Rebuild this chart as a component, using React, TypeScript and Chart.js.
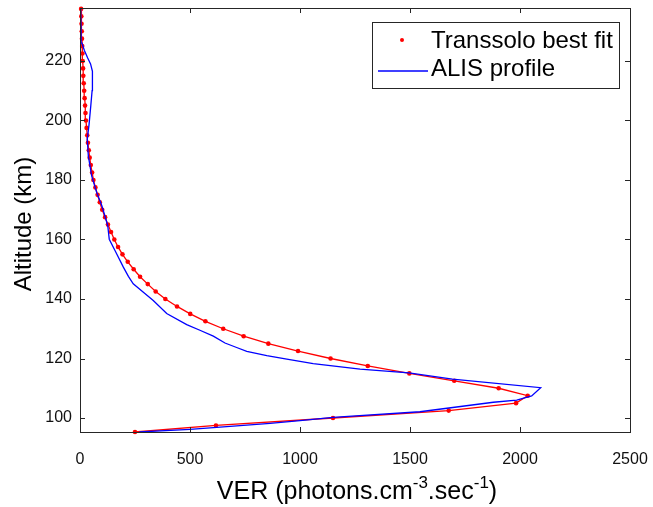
import React, { useEffect, useRef } from "react";
import { Chart, registerables } from "chart.js";

Chart.register(...registerables);

// Transsolo best fit (altitude km, VER)
const redAlt = [95.3, 97.5, 100, 102.5, 105, 107.5, 110, 112.5, 115, 117.5, 120, 122.5, 125, 127.5, 130, 132.5, 135, 137.5, 140, 142.5, 145, 147.5, 150, 152.5, 155, 157.5, 160, 162.5, 165, 167.5, 170, 172.5, 175, 177.5, 180, 182.5, 185, 187.5, 190, 192.5, 195, 197.5, 200, 202.5, 205, 207.5, 210, 212.5, 215, 217.5, 220, 222.5, 225, 227.5, 230, 232.5, 235, 237.5];
const redVer = [250, 618, 1150, 1676, 1982, 2035, 1903, 1701, 1497, 1308, 1139, 991, 856, 744, 651, 570, 501, 441, 388, 344, 308, 273, 244, 217, 193, 173, 156, 141, 127, 114, 101, 90, 80, 70, 61, 55, 49, 44, 40, 36, 33, 30, 27, 25, 23, 21, 19, 17, 15, 14, 12, 11, 10, 9, 8, 7, 6, 5];

// ALIS profile (altitude km, VER)
const blueAlt = [95.3, 96.2, 98.2, 99.1, 100.2, 102.1, 105.3, 106, 107.4, 110.2, 113.1, 115.2, 116.4, 118.3, 119.8, 121, 122.4, 123.7, 125.2, 127.5, 129.5, 131.4, 135.1, 139.5, 142.3, 145.1, 147.6, 150.7, 156.3, 160.1, 164.7, 171.4, 175.8, 181.4, 188, 193.7, 198.5, 204.9, 210, 213.5, 216.5, 219, 221, 223.5, 226, 230, 237.8];
const blueVer = [270, 500, 864, 1000, 1150, 1545, 1879, 1985, 2053, 2094, 1693, 1495, 1273, 1060, 940, 849, 758, 712, 659, 606, 545, 485, 394, 333, 288, 242, 220, 197, 159, 133, 126, 99, 76, 53, 38, 33, 41, 49, 55, 57, 56, 48, 35, 20, 9, 5, 3];

const xTicks = [0, 500, 1000, 1500, 2000, 2500];
const yTicks = [100, 120, 140, 160, 180, 200, 220];
const legendLabels = ["Transsolo best fit", "ALIS profile"];
const xTitleParts = ["VER (photons.cm", "-3", ".sec", "-1", ")"];
const yTitle = "Altitude (km)";

const FONT = '"Liberation Sans", Arial, Helvetica, sans-serif';
const AXIS = "#262626";
const RED = "#ff0000";
const BLUE = "#0000ff";

const framePlugin = {
  id: "matlabFrame",
  afterDraw(chart: any) {
    const { ctx, chartArea } = chart;
    const { left, right, top, bottom } = chartArea;
    const xs = chart.scales.x;
    const ys = chart.scales.y;
    ctx.save();
    // frame
    ctx.strokeStyle = AXIS;
    ctx.lineWidth = 1;
    ctx.strokeRect(left + 0.5, top + 0.5, right - left, bottom - top);
    // inward ticks
    const tl = 5;
    ctx.beginPath();
    xTicks.forEach((v) => {
      const p = Math.round(xs.getPixelForValue(v)) + 0.5;
      ctx.moveTo(p, bottom);
      ctx.lineTo(p, bottom - tl);
      ctx.moveTo(p, top);
      ctx.lineTo(p, top + tl);
    });
    yTicks.forEach((v) => {
      const p = Math.round(ys.getPixelForValue(v)) + 0.5;
      ctx.moveTo(left, p);
      ctx.lineTo(left + tl, p);
      ctx.moveTo(right, p);
      ctx.lineTo(right - tl, p);
    });
    ctx.stroke();

    // legend box
    const bx = right - 257.5;
    const by = top + 14.5;
    const bw = 247;
    const bh = 66;
    ctx.fillStyle = "#ffffff";
    ctx.fillRect(bx, by, bw, bh);
    ctx.strokeStyle = AXIS;
    ctx.lineWidth = 1;
    ctx.strokeRect(bx, by, bw, bh);
    // entry 1: red dot
    ctx.fillStyle = RED;
    ctx.beginPath();
    ctx.arc(bx + 29.5, by + 17.5, 2, 0, Math.PI * 2);
    ctx.fill();
    // entry 2: blue line
    ctx.strokeStyle = BLUE;
    ctx.lineWidth = 1.3;
    ctx.beginPath();
    ctx.moveTo(bx + 5.5, by + 48.5);
    ctx.lineTo(bx + 55.5, by + 48.5);
    ctx.stroke();
    ctx.fillStyle = "#000000";
    ctx.font = `24px ${FONT}`;
    ctx.textAlign = "left";
    ctx.textBaseline = "alphabetic";
    ctx.fillText(legendLabels[0], bx + 58.5, by + 25.5);
    ctx.fillText(legendLabels[1], bx + 58.5, by + 53.5);

    // x title with superscripts
    const mainFont = `25px ${FONT}`;
    const supFont = `17px ${FONT}`;
    const widths = xTitleParts.map((t, i) => {
      ctx.font = i % 2 === 1 ? supFont : mainFont;
      return ctx.measureText(t).width;
    });
    const total = widths.reduce((a, b) => a + b, 0);
    let cx = (left + right) / 2 + 2 - total / 2;
    const base = 499;
    xTitleParts.forEach((t, i) => {
      const sup = i % 2 === 1;
      ctx.font = sup ? supFont : mainFont;
      ctx.fillText(t, cx, sup ? base - 11 : base);
      cx += widths[i];
    });

    // y title
    ctx.save();
    ctx.translate(31, (top + bottom) / 2 + 4);
    ctx.rotate(-Math.PI / 2);
    ctx.font = `24px ${FONT}`;
    ctx.textAlign = "center";
    ctx.fillText(yTitle, 0, 0);
    ctx.restore();

    ctx.restore();
  },
};

export default function App() {
  const ref = useRef<HTMLCanvasElement | null>(null);

  useEffect(() => {
    if (!ref.current) return;
    const red = redAlt.map((a, i) => ({ x: redVer[i], y: a }));
    const blue = blueAlt.map((a, i) => ({ x: blueVer[i], y: a }));
    const zeroPad = (s: any) => {
      s.paddingLeft = 0;
      s.paddingRight = 0;
      s.paddingTop = 0;
      s.paddingBottom = 0;
    };
    const chart = new Chart(ref.current, {
      type: "scatter",
      data: {
        datasets: [
          {
            label: legendLabels[1],
            data: blue,
            showLine: true,
            borderColor: BLUE,
            backgroundColor: BLUE,
            borderWidth: 1.3,
            pointRadius: 0,
            tension: 0,
          },
          {
            label: legendLabels[0],
            data: red,
            showLine: true,
            borderColor: RED,
            backgroundColor: RED,
            borderWidth: 1.3,
            pointRadius: 2.3,
            pointBorderWidth: 0,
            pointBackgroundColor: RED,
            tension: 0,
            clip: false as any,
          },
        ],
      },
      options: {
        animation: false,
        responsive: false,
        devicePixelRatio: 1,
        layout: { padding: { left: 0, right: 23, top: 8, bottom: 0 } },
        plugins: {
          legend: { display: false },
          tooltip: { enabled: false },
        },
        scales: {
          x: {
            type: "linear",
            min: 0,
            max: 2500,
            afterBuildTicks: (s: any) => {
              s.ticks = xTicks.map((v) => ({ value: v }));
            },
            afterFit: (s: any) => {
              s.height = 75;
              zeroPad(s);
            },
            grid: { display: false, drawTicks: false },
            border: { display: false },
            ticks: {
              padding: 18,
              color: "#111111",
              font: { size: 16, family: FONT },
              callback: (v: any) => String(v),
              maxRotation: 0,
            },
          },
          y: {
            type: "linear",
            min: 95.3,
            max: 237.8,
            afterBuildTicks: (s: any) => {
              s.ticks = yTicks.map((v) => ({ value: v }));
            },
            afterFit: (s: any) => {
              s.width = 80;
              zeroPad(s);
            },
            grid: { display: false, drawTicks: false },
            border: { display: false },
            ticks: {
              padding: 8,
              color: "#111111",
              font: { size: 16, family: FONT },
              callback: (v: any) => String(v),
            },
          },
        },
      },
      plugins: [framePlugin],
    });
    return () => chart.destroy();
  }, []);

  return (
    <div style={{ position: "fixed", left: 0, top: 0, width: 653, height: 507, background: "#fff" }}>
      <canvas ref={ref} width={653} height={507} style={{ display: "block" }} />
    </div>
  );
}
